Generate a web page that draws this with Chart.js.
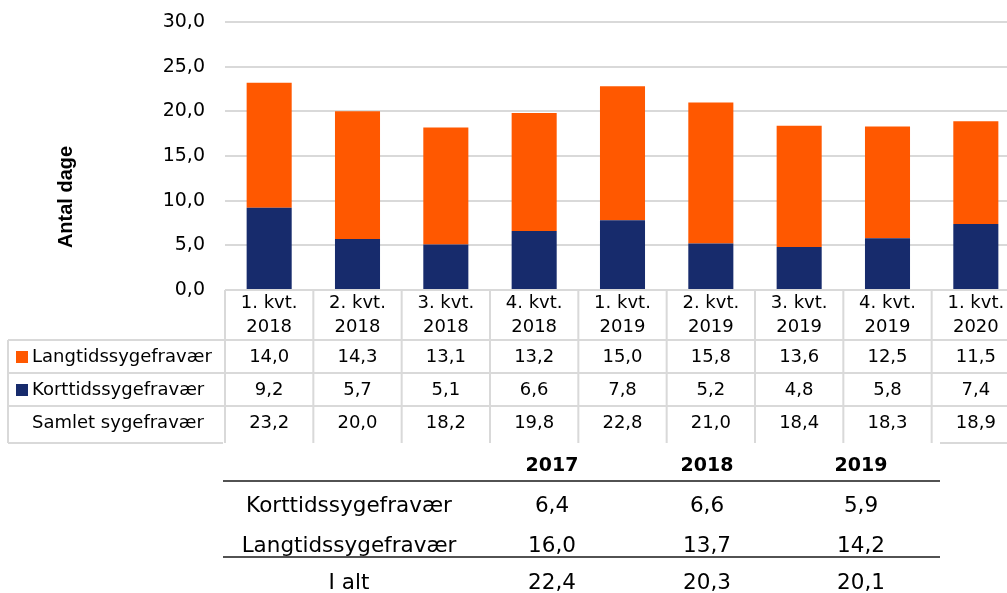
<!DOCTYPE html>
<html>
<head>
<meta charset="utf-8">
<script src="https://cdn.jsdelivr.net/npm/chart.js@4"></script>
<style>
  html, body { margin: 0; padding: 0; background: #fff; overflow: hidden; width: 1007px; height: 593px; }
  #wrap { position: relative; width: 1020px; height: 593px; }
</style>
</head>
<body>
<div id="wrap"><canvas id="chart" width="1020" height="593"></canvas></div>
<script>
// kvartaler og sygefravær (dage)
const kvartaler = [
  ['1. kvt.', '2018'], ['2. kvt.', '2018'], ['3. kvt.', '2018'], ['4. kvt.', '2018'],
  ['1. kvt.', '2019'], ['2. kvt.', '2019'], ['3. kvt.', '2019'], ['4. kvt.', '2019'],
  ['1. kvt.', '2020']
];
const langtid = [14.0, 14.3, 13.1, 13.2, 15.0, 15.8, 13.6, 12.5, 11.5];
const korttid = [9.2, 5.7, 5.1, 6.6, 7.8, 5.2, 4.8, 5.8, 7.4];
const samlet = [23.2, 20.0, 18.2, 19.8, 22.8, 21.0, 18.4, 18.3, 18.9];

// årstabel
const aar = ['2017', '2018', '2019'];
const aarKort = [6.4, 6.6, 5.9];
const aarLang = [16.0, 13.7, 14.2];
const aarIalt = [22.4, 20.3, 20.1];

const orange = '#FF5800';
const navy = '#172B6C';
const lineGrey = '#d9d9d9';
const fontName = '"DejaVu Sans", Verdana, sans-serif';

function fmt(v) {
  return v.toFixed(1).replace('.', ',');
}

const tablePlugin = {
  id: 'tablePlugin',
  afterDraw(chart) {
    const ctx = chart.ctx;
    const x = chart.scales.x;
    const colW = x.getPixelForValue(1) - x.getPixelForValue(0);
    const left = x.getPixelForValue(0) - colW / 2;
    const right = left + colW * kvartaler.length;
    const top = chart.chartArea.bottom;
    const rowTops = [340, 373, 406];
    const bottom = 443;

    ctx.save();
    ctx.strokeStyle = lineGrey;
    ctx.lineWidth = 2;
    ctx.beginPath();
    for (let i = 0; i <= kvartaler.length; i++) {
      const px = left + i * colW;
      ctx.moveTo(px, top);
      ctx.lineTo(px, bottom);
    }
    ctx.moveTo(8, rowTops[0]);
    ctx.lineTo(8, bottom);
    rowTops.forEach(y => {
      ctx.moveTo(8, y);
      ctx.lineTo(right, y);
    });
    ctx.moveTo(8, bottom);
    ctx.lineTo(223, bottom);
    ctx.moveTo(940, bottom);
    ctx.lineTo(right, bottom);
    ctx.stroke();

    // rækker
    const rows = [
      { label: 'Langtidssygefravær', data: langtid, color: orange },
      { label: 'Korttidssygefravær', data: korttid, color: navy },
      { label: 'Samlet sygefravær', data: samlet, color: null }
    ];
    ctx.font = '18px ' + fontName;
    ctx.fillStyle = '#000';
    ctx.textBaseline = 'middle';
    rows.forEach((r, ri) => {
      const cy = rowTops[ri] + 17;
      if (r.color) {
        ctx.fillStyle = r.color;
        ctx.fillRect(16, cy - 6, 12, 12);
      }
      ctx.fillStyle = '#000';
      ctx.textAlign = 'left';
      ctx.fillText(r.label, 32, cy);
      ctx.textAlign = 'center';
      r.data.forEach((v, i) => {
        ctx.fillText(fmt(v), x.getPixelForValue(i), cy);
      });
    });

    // y-akse titel
    ctx.save();
    ctx.translate(66, 197);
    ctx.rotate(-Math.PI / 2);
    ctx.font = 'bold 20px "Liberation Sans", Arial, sans-serif';
    ctx.textAlign = 'center';
    ctx.fillText('Antal dage', 0, 0);
    ctx.restore();

    // årstabel
    const colX = [552, 707, 861];
    const labelX = 349;
    ctx.fillStyle = '#000';
    ctx.textAlign = 'center';
    ctx.font = 'bold 19px ' + fontName;
    aar.forEach((a, i) => ctx.fillText(a, colX[i], 466));
    ctx.font = '21.5px ' + fontName;
    const yRows = [
      { label: 'Korttidssygefravær', data: aarKort, y: 506 },
      { label: 'Langtidssygefravær', data: aarLang, y: 546 },
      { label: 'I alt', data: aarIalt, y: 583 }
    ];
    yRows.forEach(r => {
      ctx.fillText(r.label, labelX, r.y);
      r.data.forEach((v, i) => ctx.fillText(fmt(v), colX[i], r.y));
    });
    ctx.strokeStyle = '#1a1a1a';
    ctx.lineWidth = 1.5;
    ctx.beginPath();
    ctx.moveTo(223, 481);
    ctx.lineTo(940, 481);
    ctx.moveTo(223, 557);
    ctx.lineTo(940, 557);
    ctx.stroke();
    ctx.restore();
  }
};

new Chart(document.getElementById('chart').getContext('2d'), {
  type: 'bar',
  data: {
    labels: kvartaler,
    datasets: [
      { label: 'Korttidssygefravær', data: korttid, backgroundColor: navy, stack: 's' },
      { label: 'Langtidssygefravær', data: langtid, backgroundColor: orange, stack: 's' }
    ]
  },
  options: {
    responsive: false,
    animation: false,
    layout: { padding: { top: 22, left: 0, right: 0, bottom: 0 } },
    datasets: { bar: { categoryPercentage: 1, barPercentage: 0.51 } },
    plugins: {
      legend: { display: false },
      tooltip: { enabled: false }
    },
    scales: {
      x: {
        stacked: true,
        grid: { display: false },
        border: { display: false },
        ticks: {
          color: '#000',
          font: { family: fontName, size: 18, lineHeight: 1.33 },
          padding: -7,
          maxRotation: 0,
          autoSkip: false
        },
        afterFit(scale) { scale.height = 303; }
      },
      y: {
        stacked: true,
        min: 0,
        max: 30,
        ticks: {
          stepSize: 5,
          color: '#000',
          font: { family: fontName, size: 19 },
          padding: 0,
          callback: v => fmt(v)
        },
        grid: { color: lineGrey, lineWidth: 2, drawTicks: true, tickLength: 20, tickColor: 'rgba(0,0,0,0)' },
        border: { display: false },
        afterFit(scale) { scale.width = 225; }
      }
    }
  },
  plugins: [tablePlugin]
});
</script>
</body>
</html>
